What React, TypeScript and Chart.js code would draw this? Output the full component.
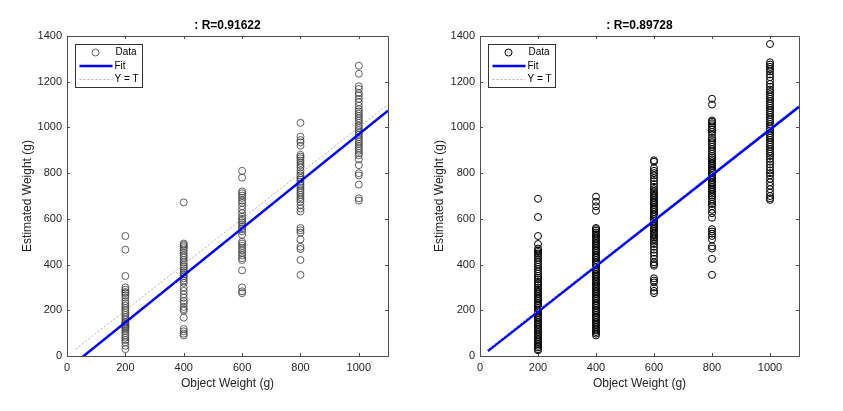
import React, { useEffect, useRef } from "react";
import { Chart, registerables } from "chart.js";

Chart.register(...registerables);

// ---------- data ----------
const xCategories = [200, 400, 600, 800, 1000];
const xTickValues = [0, 200, 400, 600, 800, 1000];
const yTickValues = [0, 200, 400, 600, 800, 1000, 1200, 1400];

const leftTitle = ": R=0.91622";
const rightTitle = ": R=0.89728";

const left200 = [525, 465, 350, 300, 290, 280, 275, 265, 255, 240, 230, 220, 210, 200, 190, 180, 170, 160, 150, 145, 140, 135, 130, 125, 120, 110, 100, 90, 80, 70, 60, 45, 30];
const left400 = [672, 492, 486, 480, 472, 462, 450, 440, 430, 420, 410, 400, 392, 384, 375, 366, 358, 350, 340, 330, 320, 300, 285, 270, 255, 240, 230, 215, 205, 198, 168, 118, 108, 98, 90];
const left600 = [810, 780, 720, 712, 702, 692, 680, 670, 655, 640, 625, 610, 600, 592, 584, 575, 565, 555, 545, 530, 500, 492, 482, 472, 462, 450, 440, 428, 420, 375, 300, 283, 275];
const left800 = [1020, 960, 945, 935, 920, 880, 872, 865, 855, 845, 835, 825, 812, 800, 790, 780, 772, 762, 752, 745, 735, 725, 715, 705, 695, 685, 675, 660, 645, 632, 560, 550, 540, 510, 478, 468, 420, 355];
const left1000 = [1270, 1235, 1180, 1168, 1150, 1140, 1125, 1110, 1095, 1080, 1070, 1060, 1050, 1040, 1030, 1020, 1008, 998, 988, 978, 968, 958, 948, 938, 928, 918, 908, 898, 888, 878, 860, 835, 800, 790, 750, 690, 680];

const right200 = [688, 608, 525, 490, 470, 462, 455, 448, 440, 430, 420, 410, 400, 390, 380, 370, 360, 350, 342, 335, 325, 318, 310, 300, 292, 285, 278, 270, 262, 255, 248, 240, 232, 225, 218, 210, 202, 195, 188, 180, 172, 165, 158, 150, 142, 135, 128, 120, 112, 105, 98, 90, 82, 75, 68, 60, 52, 45, 38, 30, 25];
const right400 = [697, 675, 655, 635, 560, 555, 548, 540, 532, 525, 518, 510, 502, 495, 488, 480, 472, 465, 458, 450, 442, 435, 428, 420, 412, 405, 398, 390, 382, 375, 368, 360, 352, 345, 338, 330, 322, 315, 308, 300, 292, 285, 278, 270, 262, 255, 248, 240, 232, 225, 218, 210, 202, 195, 188, 180, 172, 165, 158, 150, 142, 135, 128, 120, 112, 105, 98, 90];
const right600 = [856, 850, 822, 810, 800, 790, 778, 765, 752, 740, 730, 720, 712, 705, 698, 690, 682, 675, 668, 660, 652, 645, 638, 630, 622, 615, 608, 600, 592, 585, 578, 570, 562, 555, 548, 540, 532, 525, 518, 510, 500, 490, 478, 465, 452, 440, 425, 410, 402, 395, 340, 330, 322, 300, 285, 275];
const right800 = [1125, 1100, 1030, 1025, 1018, 1010, 1000, 990, 980, 968, 955, 945, 935, 925, 915, 905, 895, 885, 875, 868, 860, 852, 845, 838, 830, 822, 815, 808, 800, 792, 785, 778, 770, 762, 755, 748, 740, 732, 725, 718, 710, 702, 695, 685, 675, 665, 655, 640, 625, 605, 555, 545, 535, 525, 510, 480, 470, 425, 355];
const right1000 = [1365, 1285, 1275, 1265, 1255, 1245, 1232, 1220, 1205, 1190, 1178, 1165, 1155, 1145, 1135, 1125, 1115, 1105, 1095, 1085, 1075, 1065, 1055, 1045, 1035, 1025, 1015, 1005, 995, 985, 975, 965, 955, 945, 935, 925, 915, 905, 895, 885, 875, 862, 850, 838, 825, 812, 800, 790, 775, 760, 745, 730, 715, 700, 690, 683];

const leftFitX = [25, 1100];
const leftFitY = [-33, 1073];
const leftIdentity = [30, 1100];

const rightFitX = [27, 1100];
const rightFitY = [22, 1090];
const rightIdentity = [25, 1100];

const leftGroups = [left200, left400, left600, left800, left1000];
const rightGroups = [right200, right400, right600, right800, right1000];

// ---------- styling ----------
const FONT = "'Liberation Sans', Arial, Helvetica, sans-serif";
const AXIS_COLOR = "#4d4d4d";
const TEXT_COLOR = "#262626";
const IDENTITY_COLOR = "#b0b0b0";

function toPoints(groups: number[][]) {
  const pts: { x: number; y: number }[] = [];
  groups.forEach((vals, i) => vals.forEach((v) => pts.push({ x: xCategories[i], y: v })));
  return pts;
}

function pairPoints(xs: number[], ys: number[]) {
  return xs.map((x, i) => ({ x, y: ys[i] }));
}

type Cfg = {
  title: string;
  groups: number[][];
  fitX: number[];
  fitY: number[];
  identity: number[];
  yAxisWidth: number;
  yTitlePad: number;
  rightPad: number;
  markerColor: string;
  markerWidth: number;
};

function makeDecor(cfg: Cfg) {
  return {
    id: "matlabDecor",
    afterDraw(chart: any) {
      const { ctx, chartArea } = chart;
      const { left, right, top, bottom } = chartArea;
      const xs = chart.scales.x;
      const ys = chart.scales.y;
      ctx.save();
      // box
      ctx.strokeStyle = AXIS_COLOR;
      ctx.lineWidth = 1;
      ctx.beginPath();
      ctx.rect(Math.round(left) + 0.5, Math.round(top) + 0.5, Math.round(right - left), Math.round(bottom - top));
      ctx.stroke();
      // inward ticks
      const tl = 3;
      ctx.beginPath();
      xTickValues.forEach((v) => {
        const px = Math.round(xs.getPixelForValue(v)) + 0.5;
        ctx.moveTo(px, bottom);
        ctx.lineTo(px, bottom - tl);
        ctx.moveTo(px, top);
        ctx.lineTo(px, top + tl);
      });
      yTickValues.forEach((v) => {
        const py = Math.round(ys.getPixelForValue(v)) + 0.5;
        ctx.moveTo(left, py);
        ctx.lineTo(left + tl, py);
        ctx.moveTo(right, py);
        ctx.lineTo(right - tl, py);
      });
      ctx.stroke();

      // title
      ctx.fillStyle = "#000";
      ctx.font = `bold 12px ${FONT}`;
      ctx.textAlign = "center";
      ctx.textBaseline = "middle";
      ctx.fillText(cfg.title, (left + right) / 2, top - 10);

      // legend
      const lx = Math.round(left) + 8.5;
      const ly = Math.round(top) + 8.5;
      const lw = 67;
      const lh = 43;
      ctx.fillStyle = "#fff";
      ctx.fillRect(lx, ly, lw, lh);
      ctx.strokeStyle = "#333";
      ctx.lineWidth = 1;
      ctx.strokeRect(lx, ly, lw, lh);
      const rows = [ly + 8, ly + 21.5, ly + 35];
      // data marker
      ctx.strokeStyle = cfg.markerColor;
      ctx.lineWidth = cfg.markerWidth;
      ctx.beginPath();
      ctx.arc(lx + 20, rows[0], 3.5, 0, Math.PI * 2);
      ctx.stroke();
      // fit
      ctx.strokeStyle = "#0000ff";
      ctx.lineWidth = 2.5;
      ctx.beginPath();
      ctx.moveTo(lx + 4, rows[1]);
      ctx.lineTo(lx + 37, rows[1]);
      ctx.stroke();
      // Y = T
      ctx.strokeStyle = IDENTITY_COLOR;
      ctx.lineWidth = 1;
      ctx.setLineDash([2, 2]);
      ctx.beginPath();
      ctx.moveTo(lx + 4, rows[2]);
      ctx.lineTo(lx + 37, rows[2]);
      ctx.stroke();
      ctx.setLineDash([]);
      ctx.fillStyle = "#000";
      ctx.font = `10px ${FONT}`;
      ctx.textAlign = "left";
      ctx.textBaseline = "middle";
      ctx.fillText("Data", lx + 40, rows[0]);
      ctx.fillText("Fit", lx + 39, rows[1]);
      ctx.fillText("Y = T", lx + 39, rows[2]);
      ctx.restore();
    },
  };
}

function Panel({ cfg, width, leftPos }: { cfg: Cfg; width: number; leftPos: number }) {
  const ref = useRef<HTMLCanvasElement>(null);
  useEffect(() => {
    if (!ref.current) return;
    const chart = new Chart(ref.current, {
      type: "scatter",
      data: {
        datasets: [
          {
            label: "Data",
            data: toPoints(cfg.groups),
            pointStyle: "circle",
            pointRadius: 3.5,
            pointBackgroundColor: "rgba(0,0,0,0)",
            pointBorderColor: cfg.markerColor,
            pointBorderWidth: cfg.markerWidth,
            showLine: false,
            order: 3,
          },
          {
            label: "Fit",
            type: "line",
            data: pairPoints(cfg.fitX, cfg.fitY),
            borderColor: "#0000ff",
            borderWidth: 2.5,
            pointRadius: 0,
            fill: false,
            order: 2,
          },
          {
            label: "Y = T",
            type: "line",
            data: pairPoints(cfg.identity, cfg.identity),
            borderColor: IDENTITY_COLOR,
            borderWidth: 1,
            borderDash: [2, 2],
            pointRadius: 0,
            fill: false,
            order: 1,
          },
        ],
      } as any,
      options: {
        animation: false,
        responsive: false,
        events: [],
        layout: { padding: { top: 36, right: cfg.rightPad, bottom: 0, left: 0 } },
        plugins: { legend: { display: false }, tooltip: { enabled: false }, title: { display: false } },
        scales: {
          x: {
            type: "linear",
            min: 0,
            max: 1100,
            grid: { display: false, drawTicks: false },
            border: { display: false },
            ticks: {
              color: TEXT_COLOR,
              font: { family: FONT, size: 11 },
              padding: 5,
              callback: (v: any) => String(v),
            },
            title: {
              display: true,
              text: "Object Weight (g)",
              color: TEXT_COLOR,
              font: { family: FONT, size: 12 },
              padding: { top: 0, bottom: 20 },
            },
            afterBuildTicks: (s: any) => {
              s.ticks = xTickValues.map((v) => ({ value: v }));
            },
            afterFit: (s: any) => {
              s.height = 55;
            },
          },
          y: {
            type: "linear",
            min: 0,
            max: 1400,
            grid: { display: false, drawTicks: false },
            border: { display: false },
            ticks: {
              color: TEXT_COLOR,
              font: { family: FONT, size: 11 },
              padding: 5,
              callback: (v: any) => String(v),
            },
            title: {
              display: true,
              text: "Estimated Weight (g)",
              color: TEXT_COLOR,
              font: { family: FONT, size: 12 },
              padding: { top: cfg.yTitlePad, bottom: 0 },
            },
            afterBuildTicks: (s: any) => {
              s.ticks = yTickValues.map((v) => ({ value: v }));
            },
            afterFit: (s: any) => {
              s.width = cfg.yAxisWidth;
            },
          },
        },
      } as any,
      plugins: [makeDecor(cfg)],
    });
    return () => chart.destroy();
  }, []);
  return (
    <canvas
      ref={ref}
      width={width}
      height={411}
      style={{ position: "absolute", left: leftPos, top: 0, width, height: 411 }}
    />
  );
}

const leftCfg: Cfg = {
  title: leftTitle,
  groups: leftGroups,
  fitX: leftFitX,
  fitY: leftFitY,
  identity: leftIdentity,
  yAxisWidth: 67,
  yTitlePad: 20,
  rightPad: 33,
  markerColor: "#3a3a3a",
  markerWidth: 0.8,
};

const rightCfg: Cfg = {
  title: rightTitle,
  groups: rightGroups,
  fitX: rightFitX,
  fitY: rightFitY,
  identity: rightIdentity,
  yAxisWidth: 59,
  yTitlePad: 11,
  rightPad: 44,
  markerColor: "#000000",
  markerWidth: 1.0,
};

export default function App() {
  return (
    <div style={{ position: "fixed", left: 0, top: 0, width: 843, height: 411, background: "#fff", overflow: "hidden" }}>
      <Panel cfg={leftCfg} width={421} leftPos={0} />
      <Panel cfg={rightCfg} width={422} leftPos={421} />
    </div>
  );
}
